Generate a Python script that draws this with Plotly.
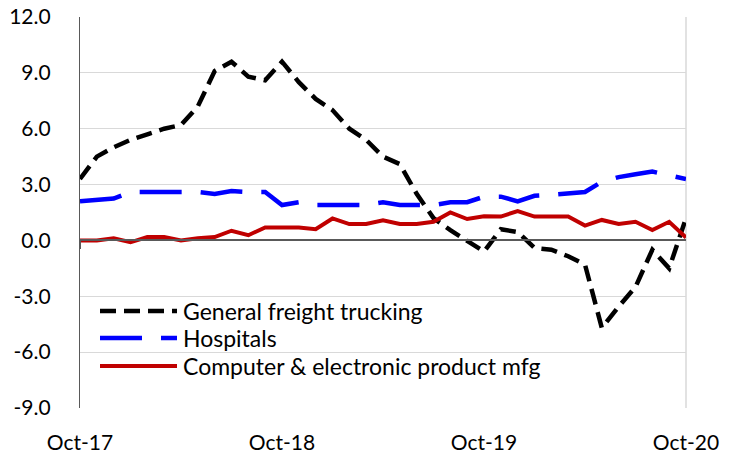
import plotly.graph_objects as go

# Monthly labels, Oct-17 through Oct-20
months = ["Oct-17", "Nov-17", "Dec-17", "Jan-18", "Feb-18", "Mar-18", "Apr-18",
          "May-18", "Jun-18", "Jul-18", "Aug-18", "Sep-18", "Oct-18", "Nov-18",
          "Dec-18", "Jan-19", "Feb-19", "Mar-19", "Apr-19", "May-19", "Jun-19",
          "Jul-19", "Aug-19", "Sep-19", "Oct-19", "Nov-19", "Dec-19", "Jan-20",
          "Feb-20", "Mar-20", "Apr-20", "May-20", "Jun-20", "Jul-20", "Aug-20",
          "Sep-20", "Oct-20"]

trucking = [3.3, 4.5, 5.0, 5.4, 5.7, 6.0, 6.2, 7.2, 9.1, 9.6, 8.8, 8.6, 9.6,
            8.5, 7.6, 7.0, 6.0, 5.4, 4.5, 4.1, 2.5, 1.2, 0.55, 0.0, -0.6,
            0.6, 0.45, -0.4, -0.5, -0.85, -1.3, -4.7, -3.55, -2.5, -0.5, -1.5, 1.2]

hospitals = [2.1, 2.15, 2.25, 2.6, 2.6, 2.6, 2.6, 2.6, 2.5, 2.65, 2.6, 2.6, 1.9,
             2.05, 1.9, 1.9, 1.9, 1.9, 2.05, 1.9, 1.9, 1.9, 2.05, 2.05, 2.35,
             2.35, 2.1, 2.4, 2.45, 2.5, 2.6, 3.15, 3.4, 3.55, 3.7, 3.5, 3.3]

computer = [0.0, 0.0, 0.12, -0.1, 0.18, 0.18, 0.0, 0.12, 0.18, 0.52, 0.28, 0.7, 0.7,
            0.7, 0.6, 1.18, 0.88, 0.88, 1.08, 0.88, 0.88, 1.0, 1.5, 1.15, 1.3,
            1.28, 1.58, 1.28, 1.28, 1.28, 0.8, 1.1, 0.88, 1.0, 0.56, 1.0, 0.16]

names = ["General freight trucking", "Hospitals", "Computer & electronic product mfg"]
year_ticks = ["Oct-17", "Oct-18", "Oct-19", "Oct-20"]
y_tickvals = [-9, -6, -3, 0, 3, 6, 9, 12]
y_ticktext = ["-9.0", "-6.0", "-3.0", "0.0", "3.0", "6.0", "9.0", "12.0"]

FONT = "Lato"
W, H = 731, 453
M_L, M_R, M_T, M_B = 80, 45, 17, 45
y_min, y_max = -9, 12

styles = [
    dict(color="#000000", width=4.5, dash="16px,8px"),
    dict(color="#0000FF", width=4.5, dash="42px,19px"),
    dict(color="#C00000", width=4),
]
series = [trucking, hospitals, computer]

fig = go.Figure()
for name, vals, st in zip(names, series, styles):
    fig.add_trace(go.Scatter(x=months, y=vals, name=name, mode="lines",
                             line=st, showlegend=False))

# --- legend drawn inside the plot area (pixel layout converted to paper units)
plot_w = W - M_L - M_R
plot_h = H - M_T - M_B


def px_x(px):
    return (px - M_L) / plot_w


def px_y(py):
    return (H - M_B - py) / plot_h


key_x0, key_x1, text_x = 100, 177, 181
row_y = [311, 338, 366]
shapes = []
annotations = []
for name, st, ry in zip(names, styles, row_y):
    shapes.append(dict(type="line", xref="paper", yref="paper",
                       x0=px_x(key_x0), x1=px_x(key_x1), y0=px_y(ry), y1=px_y(ry),
                       line=st))
    annotations.append(dict(text=name, xref="paper", yref="paper",
                            x=px_x(text_x), y=px_y(ry), xanchor="left",
                            yanchor="middle", showarrow=False,
                            font=dict(family=FONT, size=23, color="#000000")))

# light frame edge on the right of the plot area
shapes.append(dict(type="line", xref="paper", yref="paper", x0=1, x1=1, y0=0, y1=1,
                   line=dict(color="#D9D9D9", width=1.5), layer="below"))

zero_pos = (0 - y_min) / (y_max - y_min)

fig.update_layout(
    width=W, height=H,
    margin=dict(l=M_L, r=M_R, t=M_T, b=M_B),
    paper_bgcolor="white", plot_bgcolor="white",
    font=dict(family=FONT, size=21, color="#000000"),
    showlegend=False,
    xaxis=dict(type="category", range=[0, len(months) - 1],
               tickvals=year_ticks, ticktext=year_ticks, automargin=False,
               showgrid=False, showline=False, zeroline=False, ticks="",
               ticklabelstandoff=20, tickfont=dict(size=21)),
    # axis line and cross ticks along the zero value
    xaxis2=dict(type="category", range=[0, len(months) - 1], overlaying="x",
                anchor="free", position=zero_pos, tickvals=year_ticks,
                showticklabels=False, showgrid=False, zeroline=False,
                showline=True, linecolor="#595959", linewidth=1.5,
                ticks="outside", ticklen=8, tickwidth=1.5, tickcolor="#595959"),
    xaxis3=dict(type="category", range=[0, len(months) - 1], overlaying="x",
                anchor="free", position=zero_pos, tickvals=year_ticks,
                showticklabels=False, showgrid=False, zeroline=False,
                showline=False,
                ticks="inside", ticklen=8, tickwidth=1.5, tickcolor="#595959"),
    yaxis=dict(range=[y_min, y_max], tickvals=y_tickvals, ticktext=y_ticktext,
               automargin=False,
               showgrid=True, gridcolor="#D9D9D9", gridwidth=1.3,
               zeroline=False, showline=True, linecolor="#595959", linewidth=1.3,
               ticks="", ticklabelstandoff=24, tickfont=dict(size=21)),
    shapes=shapes,
    annotations=annotations,
)

# invisible helpers to attach the overlay axes
fig.add_trace(go.Scatter(x=[months[0]], y=[None], xaxis="x2", showlegend=False,
                         hoverinfo="skip"))
fig.add_trace(go.Scatter(x=[months[0]], y=[None], xaxis="x3", showlegend=False,
                         hoverinfo="skip"))

fig.write_html("out.html")
